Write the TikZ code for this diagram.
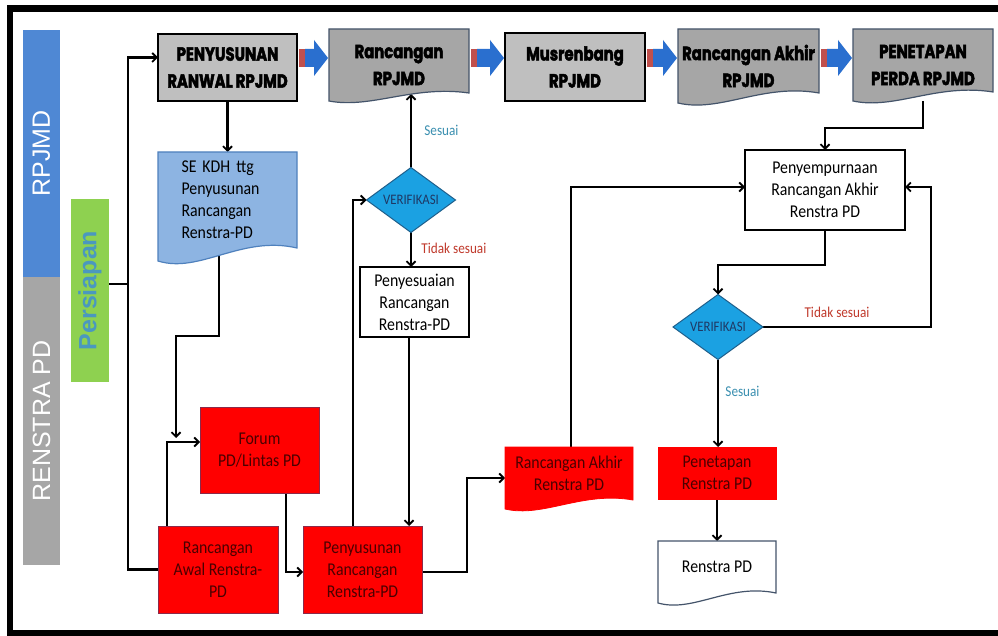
\documentclass[tikz,border=0pt]{standalone}
\usepackage{fontspec}
\setmainfont{Carlito}[FakeStretch=0.88]
\newfontfamily\heavyfont{Poppins}[FakeStretch=0.78, BoldFeatures={FakeBold=2.5}]
\newfontfamily\barfont{Liberation Sans}
\usetikzlibrary{arrows.meta,shapes.geometric,calc}
\pgfdeclarelayer{bg}
\pgfsetlayers{bg,main}

\definecolor{boxgray}{HTML}{BFBFBF}
\definecolor{docgray}{HTML}{A6A6A6}
\definecolor{docedge}{HTML}{44546A}
\definecolor{sefill}{HTML}{8DB4E2}
\definecolor{seedge}{HTML}{4F81BD}
\definecolor{redfill}{HTML}{FF0000}
\definecolor{rededge}{HTML}{8B2A4A}
\definecolor{redtxt}{HTML}{4A0000}
\definecolor{diafill}{HTML}{1BA1E2}
\definecolor{diaedge}{HTML}{1F5F8B}
\definecolor{diatxt}{HTML}{1F3864}
\definecolor{barblue}{HTML}{4F88D4}
\definecolor{bargray}{HTML}{A6A6A6}
\definecolor{bargreen}{HTML}{8ED150}
\definecolor{perstxt}{HTML}{4A98BF}
\definecolor{oktxt}{HTML}{3A8FB0}
\definecolor{notxt}{HTML}{C0392B}
\definecolor{arrblue}{HTML}{2A6FCF}
\definecolor{arrred}{HTML}{C0504D}

\tikzset{
  lin/.style={line width=2.2pt},
  conn/.style={lin, -{Straight Barb[length=4.5pt,width=9pt,line width=1.8pt]}},
  base/.style={inner sep=0pt, outer sep=0pt, align=center},
  heavytxt/.style={font=\heavyfont\bfseries\fontsize{19}{27}\selectfont},
  bodytxt/.style={font=\fontsize{18}{22}\selectfont},
  graybox/.style={base, draw=black, line width=2pt, fill=boxgray, heavytxt},
  docnode/.style={base, heavytxt},
  redbox/.style={base, draw=rededge, line width=1pt, fill=redfill, bodytxt, text=redtxt},
  whitebox/.style={base, draw=black, line width=2pt, fill=white, bodytxt},
  verif/.style={base, shape=diamond, aspect=1.37, minimum width=89pt, minimum height=65pt,
     fill=diafill, draw=diaedge, line width=1pt, text=diatxt, font=\fontsize{14.5}{15}\selectfont},
  bar/.style={base, rotate=90, text=white, font=\barfont\fontsize{25}{28}\selectfont},
  oklab/.style={text=oktxt, font=\fontsize{15}{16}\selectfont},
  nolab/.style={text=notxt, font=\fontsize{15}{16}\selectfont},
}

% document shape: x0,y0,x1,y1(left bottom),d(rise at right),style
\newcommand{\docpath}[6]{%
  \filldraw[#6] (#1,#2) -- (#3,#2) -- (#3,{#4-#5})
    .. controls ({#1+0.6*(#3-#1)},{#4-2*#5}) and ({#1+0.3*(#3-#1)},{#4+#5}) .. (#1,#4) -- cycle;}

\newcommand{\blockarr}[2]{%
  \path (#1.east |- ylev) coordinate (ba1) (#2.west |- ylev) coordinate (ba2);
  \fill[arrred] ($(ba1)+(2,-9)$) rectangle ($(ba1)+(8,9)$);
  \fill[arrblue] ($(ba1)+(8,-9)$) -- ($(ba2)+(-15,-9)$) -- ($(ba2)+(-15,-18)$) -- ($(ba2)+(-1,0)$)
     -- ($(ba2)+(-15,18)$) -- ($(ba2)+(-15,9)$) -- ($(ba1)+(8,9)$) -- cycle;}

\begin{document}
\begin{tikzpicture}[x=1pt,y=-1pt]
\useasboundingbox (0,0) rectangle (998,636);
\begin{pgfonlayer}{bg}
\fill[white] (0,0) rectangle (998,636);
\end{pgfonlayer}
\draw[line width=6.5pt] (998,8.5) -- (10,8.5) -- (10,633.5) -- (998,633.5);
\coordinate (ylev) at (0,58);

% side bars
\node[bar, fill=barblue, minimum width=247pt, minimum height=37pt] (barA) at (41.5,153.5) {RPJMD};
\node[bar, fill=bargray, minimum width=288pt, minimum height=37pt] (barB) at (41.5,421) {RENSTRA PD};
\node[bar, fill=bargreen, minimum width=183pt, minimum height=38pt, text=perstxt,
      font=\barfont\bfseries\fontsize{25}{28}\selectfont] (barP) at (90,290.5) {Persiapan};

% top row
\node[graybox, minimum width=139pt, minimum height=67pt] (b1) at (227.5,67.5) {PENYUSUNAN\\RANWAL RPJMD};
\docpath{329}{29}{469}{101}{8}{fill=docgray, draw=docedge, line width=1.2pt}
\node[docnode, minimum width=140pt, minimum height=72pt] (b2) at (399,65) {Rancangan\\RPJMD};
\node[graybox, minimum width=140pt, minimum height=68pt] (b3) at (575,67) {Musrenbang\\RPJMD};
\docpath{678}{29}{819}{103}{10}{fill=docgray, draw=docedge, line width=1.2pt}
\node[docnode, minimum width=141pt, minimum height=74pt] (b4) at (748.5,66) {Rancangan Akhir\\RPJMD};
\docpath{853}{29}{993}{101}{9}{fill=docgray, draw=docedge, line width=1.2pt}
\node[docnode, minimum width=140pt, minimum height=72pt] (b5) at (923,65) {PENETAPAN\\PERDA RPJMD};

\blockarr{b1}{b2}
\blockarr{b2}{b3}
\blockarr{b3}{b4}
\blockarr{b4}{b5}

% SE KDH
\docpath{158}{152}{297}{261}{13}{fill=sefill, draw=seedge, line width=1.2pt}
\node[base, bodytxt, align=left, text width=92pt, minimum width=139pt, minimum height=96pt] (se) at (227.5,200) {SE KDH ttg\\Penyusunan\\Rancangan\\Renstra-PD};

% red boxes
\node[redbox, minimum width=119pt, minimum height=86pt] (forum) at (259.5,450) {Forum\\PD/Lintas PD};
\node[redbox, minimum width=120pt, minimum height=87pt] (awal) at (218,569.5) {Rancangan\\Awal Renstra-\\PD};
\node[redbox, minimum width=119pt, minimum height=87pt] (pr) at (362.5,569.5) {Penyusunan\\Rancangan\\Renstra-PD};
\docpath{505}{447}{633}{509}{9}{fill=redfill, draw=redfill, line width=0.8pt}
\node[base, bodytxt, text=redtxt, minimum width=128pt, minimum height=53pt] (ra) at (569,473.5) {Rancangan Akhir\\Renstra PD};
\node[redbox, draw=redfill, minimum width=118pt, minimum height=52pt] (pt) at (717,473) {Penetapan\\Renstra PD};

% white boxes
\node[whitebox, line width=1.5pt, minimum width=109pt, minimum height=70pt] (pn) at (414.5,302) {Penyesuaian\\Rancangan\\Renstra-PD};
\node[whitebox, minimum width=160pt, minimum height=80pt] (psp) at (825,190) {Penyempurnaan\\Rancangan Akhir\\Renstra PD};
\docpath{658}{541}{776}{603}{10}{fill=white, draw=docedge, line width=1.2pt}
\node[base, bodytxt, minimum width=118pt, minimum height=52pt] (rpd) at (717,567) {Renstra PD};

% diamonds
\node[verif] (v1) at (411,200) {VERIFIKASI};
\node[verif, minimum width=90pt] (v2) at (718,327) {VERIFIKASI};

% connectors
\begin{pgfonlayer}{bg}
\coordinate (jn) at (128,284);
\draw[lin] ([yshift=6.5pt]barP.south) -- (jn);
\draw[conn] (jn) |- ([yshift=10pt]b1.west);
\draw[lin] (jn) |- (awal.west);
\draw[conn] (b1.south) -- (se.north);
\coordinate (fj) at (176,438);
\draw[conn] ([xshift=-8.5pt]se.south) -- ++(0,88) -| (fj);
\draw[conn] ([xshift=-51pt]awal.north) |- ([yshift=8pt]forum.west);
\draw[conn] ([xshift=26.5pt]forum.south) |- ([yshift=-2.5pt]pr.west);
\draw[conn] ([xshift=-9.5pt]pr.north) |- (v1.west);
\draw[conn] (v1.north) -- ([yshift=7pt]v1.north |- b2.south) node[pos=0.5, right=9pt, oklab] (lab1) {Sesuai};
\draw[conn] (v1.south) -- (v1.south |- pn.north) node[pos=0.45, right=6pt, nolab] (lab2) {Tidak sesuai};
\draw[conn] ([xshift=-5.5pt]pn.south) -- ([xshift=-5.5pt]pn.south |- pr.north);
\draw[conn] ([yshift=-2.5pt]pr.east) -- ++(45,0) |- ([yshift=-4.5pt]ra.west);
\draw[conn] ([xshift=2pt]ra.north) |- ([yshift=3pt]psp.west);
\draw[conn] (b5.south) -- ++(0,27) -| (psp.north);
\draw[conn] (psp.south) -- ++(0,35) -| (v2.north);
\draw[conn] (v2.east) -- ++(168,0) |- ([yshift=3pt]psp.east);
\draw[conn] (v2.south) -- (v2.south |- pt.north) node[pos=0.36, right=3pt, oklab] (lab3) {Sesuai};
\draw[conn] (pt.south) -- (rpd.north);
\end{pgfonlayer}
\node[nolab] (lab4) at (837,312) {Tidak sesuai};
\end{tikzpicture}
\end{document}
